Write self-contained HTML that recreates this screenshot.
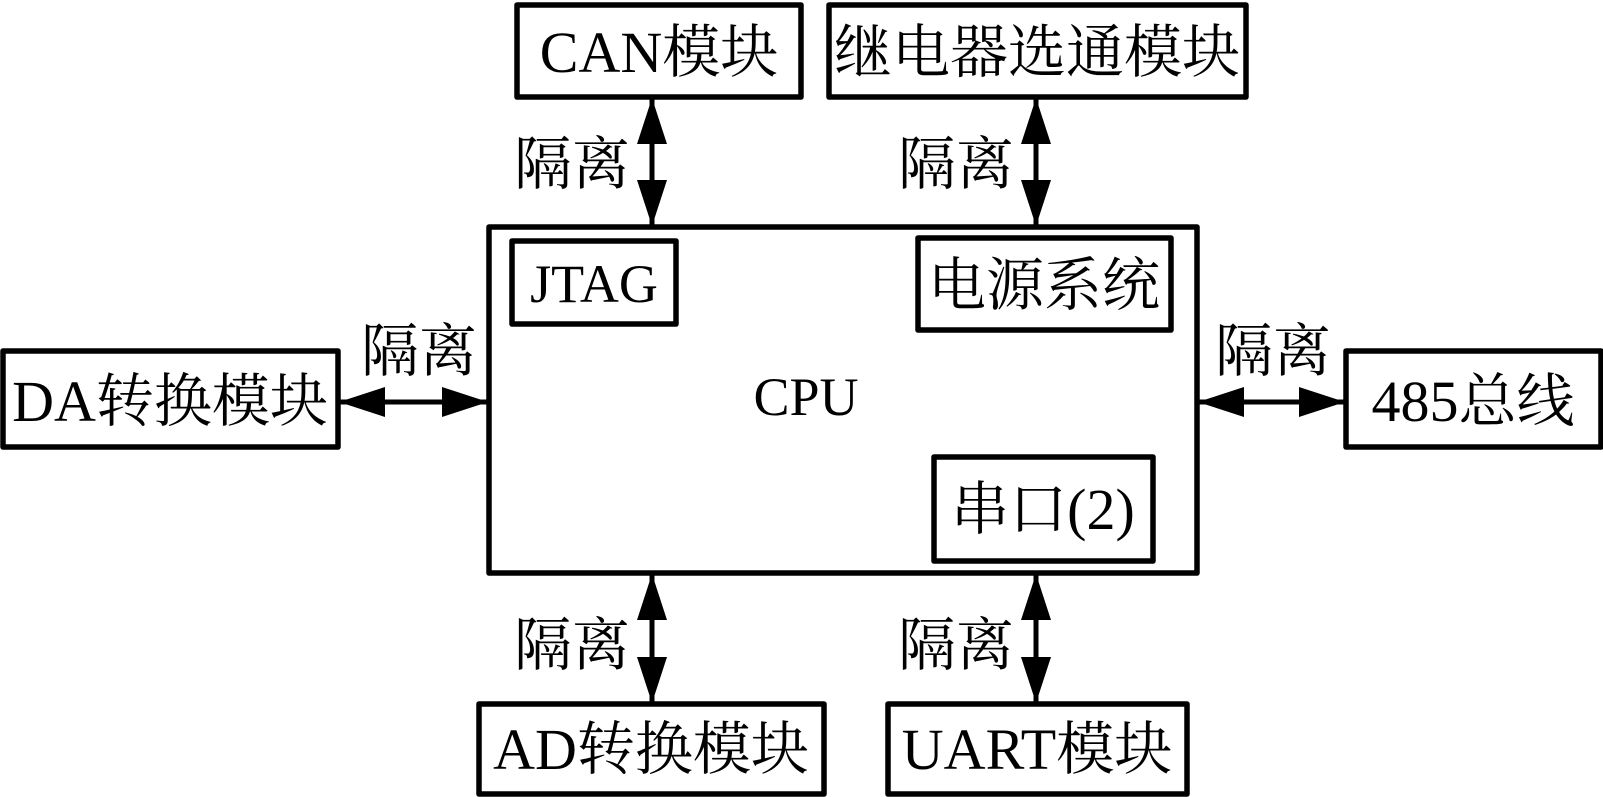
<!DOCTYPE html>
<html><head><meta charset="utf-8"><style>
html,body{margin:0;padding:0;background:#fff;}
svg{display:block}
text{font-family:"Liberation Serif","Noto Serif CJK SC",serif;fill:#000;}
</style></head><body>
<svg width="1603" height="797" viewBox="0 0 1603 797" xmlns="http://www.w3.org/2000/svg">
<defs>
<marker id="a" viewBox="0 0 46 30" refX="46" refY="15" markerWidth="46" markerHeight="30" markerUnits="userSpaceOnUse" orient="auto-start-reverse">
<path d="M0,0 L46,15 L0,30 Z" fill="#000"/>
</marker>
</defs>
<g fill="none" stroke="#000" stroke-width="5.5" stroke-linejoin="round">
<rect x="517" y="5" width="284" height="92"/>
<rect x="829" y="5" width="417" height="92"/>
<rect x="489" y="227" width="708" height="346"/>
<rect x="512" y="241" width="164" height="83"/>
<rect x="918" y="238" width="253" height="92"/>
<rect x="934" y="457" width="219" height="104"/>
<rect x="3" y="351" width="335" height="96"/>
<rect x="1346" y="351" width="255" height="96"/>
<rect x="479" y="704" width="345" height="90"/>
<rect x="888" y="704" width="299" height="90"/>
</g>
<g stroke="#000" stroke-width="5" marker-start="url(#a)" marker-end="url(#a)">
<line x1="652" y1="98" x2="652" y2="226"/>
<line x1="1036" y1="98" x2="1036" y2="226"/>
<line x1="652" y1="574" x2="652" y2="703"/>
<line x1="1036" y1="574" x2="1036" y2="703"/>
<line x1="339" y1="402" x2="488" y2="402"/>
<line x1="1198" y1="402" x2="1345" y2="402"/>
</g>
<g font-size="58" text-anchor="middle">
<text x="659" y="72">CAN模块</text>
<text x="1037" y="72">继电器选通模块</text>
<text x="594" y="302" font-size="54">JTAG</text>
<text x="1044" y="305">电源系统</text>
<text x="1043" y="529">串口(2)</text>
<text x="806" y="415" font-size="54">CPU</text>
<text x="170" y="421">DA转换模块</text>
<text x="1473" y="421">485总线</text>
<text x="651" y="769">AD转换模块</text>
<text x="1037" y="769">UART模块</text>
<text x="572" y="184">隔离</text>
<text x="956" y="184">隔离</text>
<text x="419" y="371">隔离</text>
<text x="1273" y="371">隔离</text>
<text x="572" y="665">隔离</text>
<text x="956" y="665">隔离</text>
</g>
</svg>
</body></html>
